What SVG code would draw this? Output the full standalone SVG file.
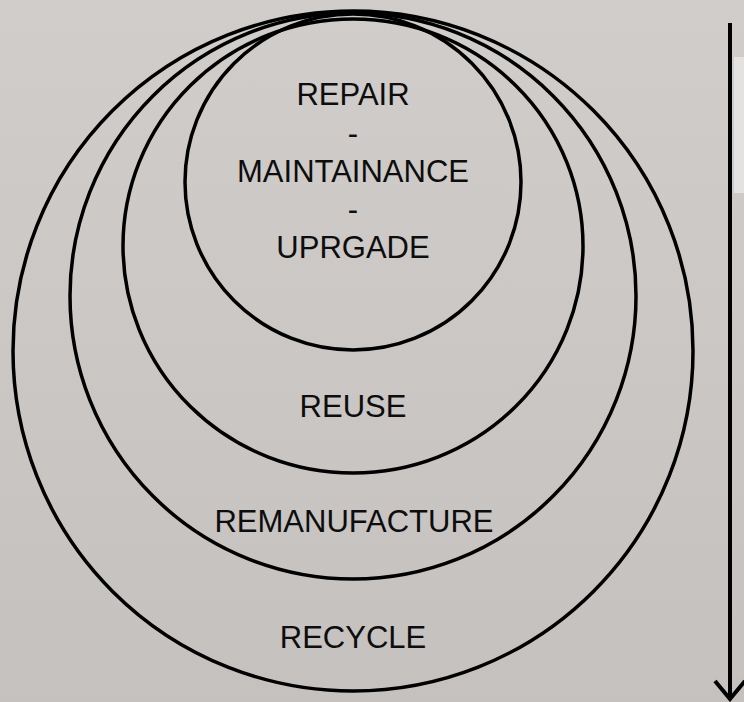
<svg xmlns="http://www.w3.org/2000/svg" width="744" height="702" viewBox="0 0 744 702">
  <defs>
    <linearGradient id="bg" x1="0" y1="0" x2="0" y2="1">
      <stop offset="0" stop-color="#d0cdcb"/>
      <stop offset="1" stop-color="#c4c1be"/>
    </linearGradient>
  </defs>
  <style>
    .ring { fill: none; stroke: #000; stroke-width: 3.5; }
    .lbl { font-family: "Liberation Sans", Arial, sans-serif; font-size: 31px; fill: #0d0d0d; text-anchor: middle; }
    .arrow { stroke: #000; stroke-width: 4; fill: none; }
  </style>
  <rect x="0" y="0" width="744" height="702" fill="url(#bg)"/>
  <rect x="734" y="57" width="10" height="136" fill="#e3e2e1"/>

  <g id="recycle">
    <circle class="ring" cx="353" cy="351" r="340"/>
    <text class="lbl" x="353" y="648">RECYCLE</text>
  </g>
  <g id="remanufacture">
    <circle class="ring" cx="353" cy="296" r="283"/>
    <text class="lbl" x="354" y="532">REMANUFACTURE</text>
  </g>
  <g id="reuse">
    <ellipse class="ring" cx="353" cy="246" rx="230" ry="227"/>
    <text class="lbl" x="353" y="417">REUSE</text>
  </g>
  <g id="repair">
    <circle class="ring" cx="353" cy="182" r="168"/>
    <text class="lbl" x="353" y="105">REPAIR</text>
    <text class="lbl" x="353" y="143.5">-</text>
    <text class="lbl" x="353" y="182">MAINTAINANCE</text>
    <text class="lbl" x="353" y="220">-</text>
    <text class="lbl" x="353" y="258">UPRGADE</text>
  </g>

  <g id="connectors">
    <line class="arrow" x1="730" y1="23" x2="730" y2="699"/>
    <polyline class="arrow" points="715,681 730,699 745,681"/>
  </g>
</svg>
